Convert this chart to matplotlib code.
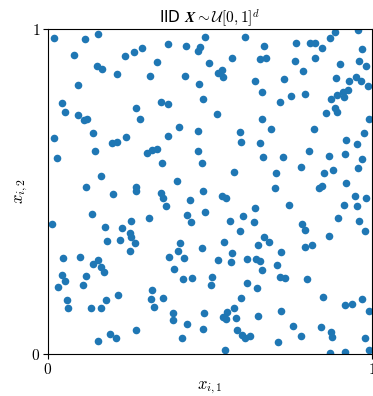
import matplotlib
matplotlib.use("Agg")
import matplotlib.pyplot as plt

plt.rcParams['mathtext.fontset'] = 'cm'

# point coordinates (x_{i,1}, x_{i,2})
x1 = [0.019, 0.115, 0.155, 0.081, 0.237, 0.152, 0.168, 0.213, 0.092, 0.042,
      0.052, 0.094, 0.112, 0.121, 0.019, 0.140, 0.241, 0.265, 0.291, 0.371,
      0.425, 0.485, 0.469, 0.464, 0.337, 0.498, 0.316, 0.423, 0.466, 0.348,
      0.371, 0.477, 0.271, 0.284, 0.405, 0.371, 0.464, 0.607, 0.668, 0.765,
      0.568, 0.654, 0.673, 0.536, 0.526, 0.540, 0.640, 0.728, 0.763, 0.660,
      0.750, 0.715, 0.522, 0.660, 0.594, 0.689, 0.885, 0.958, 0.810, 0.823,
      0.869, 0.845, 0.970, 0.824, 0.902, 0.960, 0.981, 0.787, 0.888, 0.928,
      0.952, 0.965, 0.988, 0.793, 0.892, 0.910, 0.926, 0.915, 0.873, 0.857,
      0.885, 0.893, 0.991, 0.822, 0.974, 0.921, 0.198, 0.212, 0.144, 0.029,
      0.164, 0.118, 0.200, 0.136, 0.011, 0.175, 0.229, 0.182, 0.221, 0.306,
      0.321, 0.335, 0.351, 0.462, 0.476, 0.398, 0.271, 0.272, 0.348, 0.356,
      0.365, 0.439, 0.478, 0.485, 0.313, 0.257, 0.428, 0.442, 0.252, 0.255,
      0.268, 0.408, 0.475, 0.597, 0.653, 0.665, 0.725, 0.573, 0.705, 0.702,
      0.538, 0.550, 0.744, 0.639, 0.602, 0.561, 0.635, 0.592, 0.666, 0.683,
      0.648, 0.543, 0.954, 0.805, 0.868, 0.917, 0.968, 0.782, 0.853, 0.881,
      0.956, 0.919, 0.835, 0.846, 0.948, 0.981, 0.914, 0.954, 0.895, 0.784,
      0.794, 0.961, 0.977, 0.867, 0.793, 0.815, 0.047, 0.098, 0.138, 0.155,
      0.163, 0.173, 0.252, 0.043, 0.053, 0.032, 0.117, 0.107, 0.058, 0.063,
      0.132, 0.165, 0.179, 0.216, 0.190, 0.210, 0.153, 0.401, 0.373, 0.420,
      0.389, 0.416, 0.444, 0.321, 0.317, 0.354, 0.327, 0.386, 0.387, 0.430,
      0.481, 0.478, 0.272, 0.414, 0.568, 0.719, 0.526, 0.566, 0.615, 0.641,
      0.654, 0.706, 0.660, 0.507, 0.504, 0.716, 0.731, 0.614, 0.645, 0.597,
      0.574, 0.552, 0.539, 0.548, 0.579, 0.649, 0.719, 0.756, 0.582, 0.598,
      0.608, 0.623, 0.709, 0.545, 0.798, 0.848, 0.918, 0.938, 0.969, 0.990,
      0.780, 0.844, 0.874, 0.876, 0.977, 0.990, 0.869, 0.916]
x2 = [0.971, 0.968, 0.983, 0.919, 0.915, 0.884, 0.876, 0.860, 0.826, 0.770,
      0.744, 0.734, 0.719, 0.723, 0.665, 0.678, 0.667, 0.928, 0.939, 0.952,
      0.945, 0.973, 0.944, 0.932, 0.898, 0.893, 0.855, 0.853, 0.829, 0.773,
      0.768, 0.782, 0.755, 0.723, 0.698, 0.670, 0.684, 0.974, 0.945, 0.955,
      0.909, 0.907, 0.909, 0.873, 0.863, 0.850, 0.840, 0.844, 0.899, 0.805,
      0.793, 0.775, 0.736, 0.723, 0.683, 0.692, 0.989, 0.996, 0.956, 0.956,
      0.971, 0.940, 0.938, 0.909, 0.892, 0.900, 0.886, 0.869, 0.847, 0.839,
      0.850, 0.840, 0.822, 0.799, 0.797, 0.806, 0.812, 0.790, 0.783, 0.741,
      0.756, 0.743, 0.722, 0.690, 0.679, 0.657, 0.649, 0.650, 0.625, 0.601,
      0.547, 0.512, 0.492, 0.430, 0.398, 0.391, 0.387, 0.348, 0.349, 0.617,
      0.626, 0.631, 0.586, 0.623, 0.586, 0.531, 0.514, 0.502, 0.495, 0.479,
      0.454, 0.472, 0.502, 0.437, 0.418, 0.408, 0.426, 0.406, 0.373, 0.359,
      0.342, 0.340, 0.325, 0.652, 0.648, 0.604, 0.606, 0.559, 0.555, 0.509,
      0.485, 0.478, 0.458, 0.449, 0.425, 0.410, 0.406, 0.378, 0.359, 0.344,
      0.336, 0.345, 0.646, 0.624, 0.607, 0.614, 0.600, 0.574, 0.555, 0.566,
      0.571, 0.526, 0.509, 0.517, 0.486, 0.478, 0.457, 0.456, 0.419, 0.400,
      0.380, 0.409, 0.377, 0.363, 0.330, 0.334, 0.296, 0.298, 0.276, 0.289,
      0.268, 0.252, 0.316, 0.243, 0.224, 0.206, 0.239, 0.211, 0.165, 0.141,
      0.140, 0.140, 0.167, 0.180, 0.062, 0.049, 0.040, 0.317, 0.298, 0.295,
      0.262, 0.229, 0.234, 0.197, 0.168, 0.172, 0.145, 0.127, 0.106, 0.092,
      0.125, 0.078, 0.073, 0.049, 0.311, 0.313, 0.289, 0.284, 0.291, 0.293,
      0.287, 0.274, 0.258, 0.237, 0.212, 0.237, 0.233, 0.218, 0.204, 0.171,
      0.141, 0.130, 0.115, 0.108, 0.110, 0.117, 0.131, 0.086, 0.074, 0.057,
      0.050, 0.054, 0.037, 0.013, 0.229, 0.174, 0.151, 0.155, 0.168, 0.131,
      0.055, 0.084, 0.069, 0.053, 0.048, 0.012, 0.002, 0.006]

fig = plt.figure(figsize=(3.73, 3.96), dpi=100)
ax = fig.add_axes([0.1287, 0.106, 0.8686, 0.822])
ax.scatter(x1, x2, s=30, color='#1f77b4', linewidths=0)

ax.set_xlim(0, 1)
ax.set_ylim(0, 1)
ax.set_xticks([0, 1])
ax.set_yticks([0, 1])
ax.set_xticklabels(['$0$', '$1$'], fontsize=11)
ax.set_yticklabels(['$0$', '$1$'], fontsize=11)
ax.tick_params(pad=2)
ax.set_xlabel('$x_{i,1}$', fontsize=12, labelpad=1)
ax.set_ylabel('$x_{i,2}$', fontsize=12, labelpad=1)
ax.set_title(r'IID $\mathbfit{X} \sim \mathcal{U}[0,1]^d$', fontsize=11, pad=3)

fig.savefig('out.png', dpi=100)
